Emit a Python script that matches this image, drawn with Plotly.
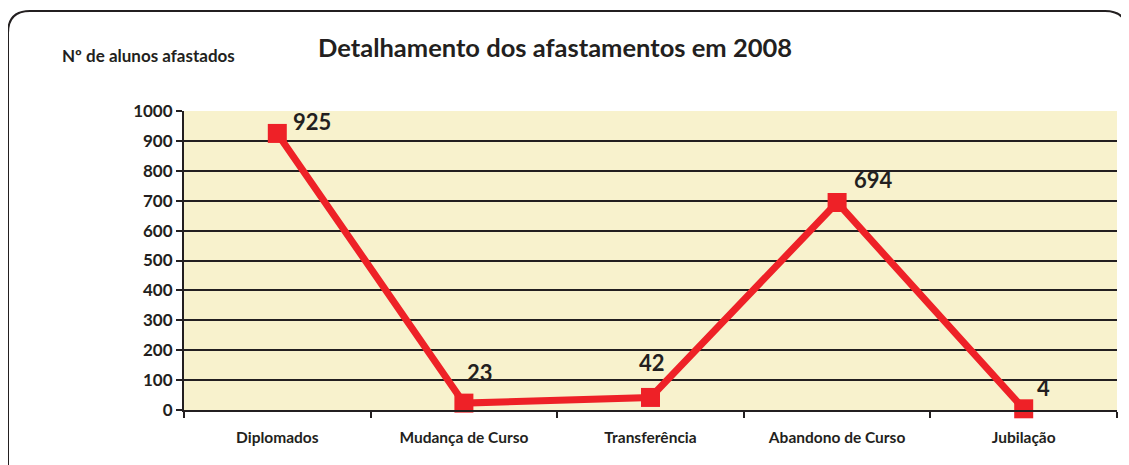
import plotly.graph_objects as go

categories = ["Diplomados", "Mudança de Curso", "Transferência", "Abandono de Curso", "Jubilação"]
values = [925, 23, 42, 694, 4]
y_ticks = [0, 100, 200, 300, 400, 500, 600, 700, 800, 900, 1000]

# label offsets (pixels) for the value annotations
label_dx = [35, 16, 1, 36, 20]
label_dy = [12, 31, 35, 23, 21]

RED = "#EE2127"
DARK = "#231F20"
FONT = "Lato"

OFF = 8  # page body margin
W, H = 1129 - OFF, 465 - OFF
L, R, T, B = 184 - OFF, 12, 111 - OFF, 55
pw, ph = W - L - R, H - T - B

def px_x(px):
    return (px - OFF - L) / pw

def px_y(py):
    return (H - B - (py - OFF)) / ph

fig = go.Figure()
fig.add_trace(go.Scatter(
    x=categories, y=values, mode="lines+markers",
    line=dict(color=RED, width=7),
    marker=dict(symbol="square", size=19, color=RED),
    cliponaxis=False, showlegend=False, hoverinfo="x+y",
))

for c, v, dx, dy in zip(categories, values, label_dx, label_dy):
    fig.add_annotation(x=c, y=v, text=str(v), showarrow=False,
                       xshift=dx, yshift=dy,
                       font=dict(family=FONT, size=22, color=DARK, weight="bold"))

# rounded border around the chart
x0, x1 = px_x(8), px_x(1127)
y0, y1 = px_y(475), px_y(11)
rx, ry = 22 / pw, 22 / ph
path = (f"M {x0},{y0} L {x0},{y1 - ry} Q {x0},{y1} {x0 + rx},{y1} "
        f"L {x1 - rx},{y1} Q {x1},{y1} {x1},{y1 - ry} L {x1},{y0}")
fig.add_shape(type="path", path=path, xref="paper", yref="paper",
              line=dict(color=DARK, width=2), layer="above")

fig.add_annotation(x=px_x(555), y=px_y(47), xref="paper", yref="paper",
                   xanchor="center", yanchor="middle",
                   text="Detalhamento dos afastamentos em 2008", showarrow=False,
                   font=dict(family=FONT, size=25.5, color=DARK, weight="bold"))
fig.add_annotation(x=px_x(60), y=px_y(56), xref="paper", yref="paper",
                   xanchor="left", yanchor="middle",
                   text="Nº de alunos afastados", showarrow=False,
                   font=dict(family=FONT, size=17, color=DARK, weight="bold"))

fig.update_layout(
    width=W, height=H,
    margin=dict(l=L, r=R, t=T, b=B),
    paper_bgcolor="white",
    plot_bgcolor="#F8F2CD",
    font=dict(family=FONT, color=DARK),
)
fig.update_xaxes(
    type="category", tickson="boundaries", ticks="outside", ticklen=6,
    tickwidth=2, tickcolor=DARK, showgrid=False,
    showline=True, linecolor=DARK, linewidth=2,
    tickfont=dict(family=FONT, size=15.5, color=DARK, weight="bold"),
    ticklabelstandoff=12,
    range=[-0.5, 4.5],
)
fig.update_yaxes(
    range=[0, 1000], tickvals=y_ticks, ticks="outside", ticklen=6,
    tickwidth=2, tickcolor=DARK,
    showgrid=True, gridcolor=DARK, gridwidth=2,
    showline=True, linecolor=DARK, linewidth=2,
    zeroline=False,
    tickfont=dict(family=FONT, size=17, color=DARK, weight="bold"),
)

fig.write_html("out.html")
